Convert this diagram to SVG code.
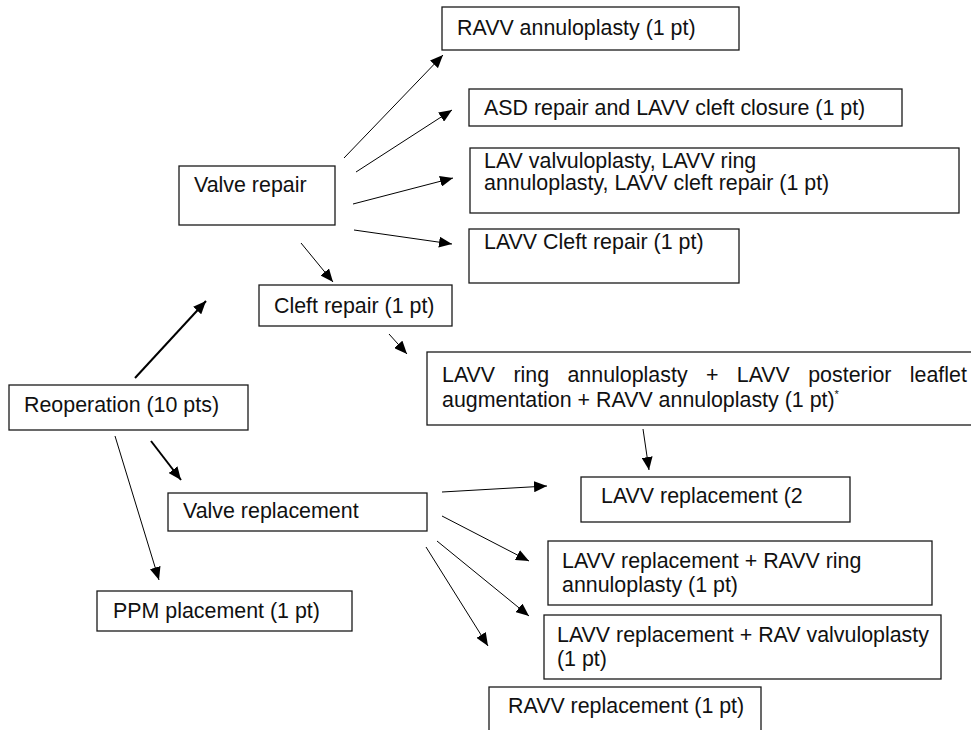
<svg xmlns="http://www.w3.org/2000/svg" width="971" height="730" viewBox="0 0 971 730">
<style>
  .box { fill: #ffffff; stroke: #1a1a1a; stroke-width: 1.3; }
  .t { font-family: "Liberation Sans", Arial, sans-serif; font-size: 21.4px; fill: #111111; }
  .c { stroke: #000000; stroke-width: 1; fill: none; marker-end: url(#ah); }
  .ck { stroke: #000000; stroke-width: 2; fill: none; marker-end: url(#ah); }
</style>
<defs>
  <marker id="ah" viewBox="0 0 13 11" refX="13" refY="5.5" markerWidth="13" markerHeight="11" markerUnits="userSpaceOnUse" orient="auto">
    <path d="M0,0 L13,5.5 L0,11 z" fill="#000000"/>
  </marker>
</defs>
<rect width="971" height="730" fill="#ffffff"/>

<g id="n-ravv-annuloplasty">
  <rect class="box" x="442" y="7" width="297" height="43"/>
  <text class="t" x="457" y="35">RAVV annuloplasty (1 pt)</text>
</g>
<g id="n-asd">
  <rect class="box" x="469" y="89" width="433" height="37"/>
  <text class="t" x="484" y="115">ASD repair and LAVV cleft closure (1 pt)</text>
</g>
<g id="n-lav-valvuloplasty">
  <rect class="box" x="470" y="148" width="489" height="65"/>
  <text class="t" x="484" y="168">LAV valvuloplasty, LAVV ring</text>
  <text class="t" x="484" y="190">annuloplasty, LAVV cleft repair (1 pt)</text>
</g>
<g id="n-lavv-cleft">
  <rect class="box" x="469" y="229" width="270" height="54"/>
  <text class="t" x="484" y="249">LAVV Cleft repair (1 pt)</text>
</g>
<g id="n-valve-repair">
  <rect class="box" x="179" y="166" width="156" height="59"/>
  <text class="t" x="194" y="192">Valve repair</text>
</g>
<g id="n-cleft-repair">
  <rect class="box" x="259" y="285" width="193" height="41"/>
  <text class="t" x="274" y="313">Cleft repair (1 pt)</text>
</g>
<g id="n-reoperation">
  <rect class="box" x="9" y="385" width="239" height="45"/>
  <text class="t" x="24" y="412">Reoperation (10 pts)</text>
</g>
<g id="n-lavv-ring">
  <rect class="box" x="427" y="352" width="550" height="73"/>
  <text class="t" x="442" y="382" word-spacing="12.4">LAVV ring annuloplasty + LAVV posterior leaflet</text>
  <text class="t" x="442" y="407">augmentation + RAVV annuloplasty (1 pt)<tspan font-size="11" dy="-9">*</tspan></text>
</g>
<g id="n-valve-replacement">
  <rect class="box" x="168" y="493" width="259" height="38"/>
  <text class="t" x="183" y="518">Valve replacement</text>
</g>
<g id="n-lavv-replacement">
  <rect class="box" x="581" y="477" width="269" height="45"/>
  <text class="t" x="601" y="503">LAVV replacement (2</text>
</g>
<g id="n-lavv-rep-ravv-ring">
  <rect class="box" x="548" y="541" width="384" height="64"/>
  <text class="t" x="562" y="568">LAVV replacement + RAVV ring</text>
  <text class="t" x="562" y="592">annuloplasty (1 pt)</text>
</g>
<g id="n-lavv-rep-rav">
  <rect class="box" x="544" y="615" width="397" height="64"/>
  <text class="t" x="557" y="642">LAVV replacement + RAV valvuloplasty</text>
  <text class="t" x="557" y="666">(1 pt)</text>
</g>
<g id="n-ravv-replacement">
  <rect class="box" x="489" y="687" width="272" height="60"/>
  <text class="t" x="508" y="713">RAVV replacement (1 pt)</text>
</g>
<g id="n-ppm">
  <rect class="box" x="97" y="591" width="255" height="40"/>
  <text class="t" x="113" y="618">PPM placement (1 pt)</text>
</g>

<g id="connectors">
  <line class="c" x1="344" y1="158" x2="443" y2="55"/>
  <line class="c" x1="356" y1="172" x2="452" y2="110"/>
  <line class="c" x1="353" y1="204" x2="453" y2="178"/>
  <line class="c" x1="354" y1="230" x2="452" y2="244"/>
  <line class="c" x1="301" y1="243" x2="333" y2="282"/>
  <line class="ck" x1="135" y1="378" x2="206" y2="301"/>
  <line class="c" x1="389" y1="334" x2="407" y2="354"/>
  <line class="c" x1="643" y1="429" x2="649" y2="470"/>
  <line class="ck" x1="151" y1="441" x2="181" y2="480"/>
  <line class="c" x1="115" y1="436" x2="159" y2="580"/>
  <line class="c" x1="442" y1="492" x2="547" y2="486"/>
  <line class="c" x1="442" y1="516" x2="529" y2="561"/>
  <line class="c" x1="437" y1="541" x2="529" y2="616"/>
  <line class="c" x1="426" y1="547" x2="488" y2="646"/>
</g>
</svg>
